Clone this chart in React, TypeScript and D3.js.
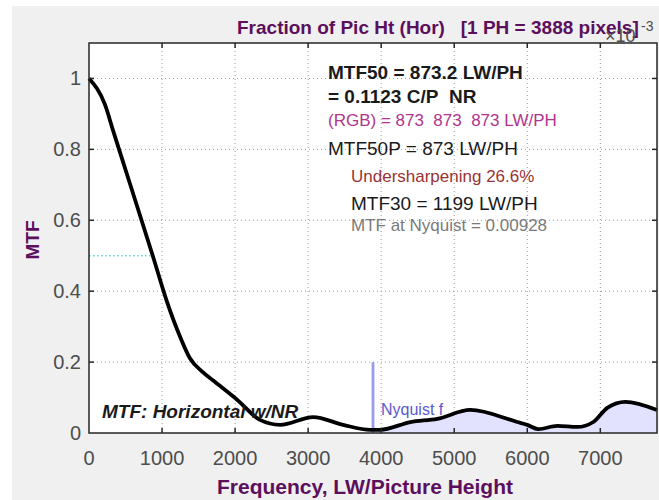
import React from "react";
import * as d3 from "d3";

// MTF curve
const freq = [0, 219, 330, 550, 873, 1068, 1250, 1384, 1550, 1700, 2027, 2340, 2616, 3068, 3480, 3850, 3986, 4400, 4767, 5219, 5863, 6000, 6150, 6411, 6685, 6904, 7096, 7342, 7776];
const mtf = [1.0, 0.926, 0.853, 0.71, 0.5, 0.37, 0.27, 0.21, 0.173, 0.148, 0.094, 0.037, 0.023, 0.045, 0.023, 0.009, 0.009, 0.031, 0.04, 0.065, 0.031, 0.023, 0.011, 0.02, 0.017, 0.031, 0.071, 0.088, 0.065];
const xTicks = [0, 1000, 2000, 3000, 4000, 5000, 6000, 7000];
const yTicks = [0, 0.2, 0.4, 0.6, 0.8, 1];
const nyquist = 3888;
const mtf50 = 873;

const W = 659;
const H = 500;
const marginLeft = 89;
const marginRight = 2;
const marginTop = 43;
const marginBottom = 67;

const FONT = "'Liberation Sans', Arial, Helvetica, sans-serif";
const PURPLE = "#5c0f5c";
const NB = "\u00a0";

export default function App() {
    const x = d3.scaleLinear().domain([0, 7776]).range([marginLeft, W - marginRight]);
    const y = d3.scaleLinear().domain([0, 1.1]).range([H - marginBottom, marginTop]);
    const pts: [number, number][] = freq.map((f, i) => [f, mtf[i]]);

    const line = d3
        .line<[number, number]>()
        .x((d) => x(d[0]))
        .y((d) => y(d[1]))
        .curve(d3.curveMonotoneX);
    const area = d3
        .area<[number, number]>()
        .x((d) => x(d[0]))
        .y0(y(0))
        .y1((d) => y(d[1]))
        .curve(d3.curveMonotoneX);

    const x0 = x(0), x1 = x(7776), yb = y(0), yt = y(1.1);
    const tickLen = 5;

    return (
        <svg width={W} height={H} style={{ position: "absolute", left: 0, top: 0, fontFamily: FONT }}>
            <rect x={0} y={0} width={W} height={H} fill="#ffffff" />
            <rect x={12} y={6} width={W - 12} height={H - 6} fill="#f0f0f0" />
            <defs>
                <clipPath id="nyq">
                    <rect x={x(nyquist)} y={yt} width={x1 - x(nyquist)} height={yb - yt} />
                </clipPath>
            </defs>
            <rect x={x0} y={yt} width={x1 - x0} height={yb - yt} fill="#ffffff" />

            {/* grid */}
            {xTicks.slice(1).map((t) => (
                <line key={"gx" + t} x1={x(t)} x2={x(t)} y1={yt} y2={yb} stroke="#999" strokeWidth={1} strokeDasharray="1,3" />
            ))}
            {yTicks.slice(1).map((t) => (
                <line key={"gy" + t} x1={x0} x2={x1} y1={y(t)} y2={y(t)} stroke="#999" strokeWidth={1} strokeDasharray="1,3" />
            ))}

            {/* area beyond nyquist */}
            <path d={area(pts) ?? ""} fill="#e2e2ff" clipPath="url(#nyq)" />

            {/* MTF50 marker */}
            <line x1={x0} x2={x(mtf50)} y1={y(0.5)} y2={y(0.5)} stroke="#3fe0e0" strokeWidth={1.5} strokeDasharray="1.5,2.5" />

            {/* nyquist line */}
            <line x1={x(nyquist)} x2={x(nyquist)} y1={yb} y2={y(0.2)} stroke="#9a9aee" strokeWidth={2.8} />
            <text x={x(nyquist) + 8} y={415} fontSize={16} fill="#5a5acc">Nyquist f</text>

            <path d={line(pts) ?? ""} fill="none" stroke="#000" strokeWidth={3.8} strokeLinejoin="round" />

            {/* frame and ticks */}
            <rect x={x0} y={yt} width={x1 - x0} height={yb - yt} fill="none" stroke="#262626" strokeWidth={1.5} />
            {xTicks.slice(1).map((t) => (
                <g key={"tx" + t} stroke="#262626" strokeWidth={1.5}>
                    <line x1={x(t)} x2={x(t)} y1={yb} y2={yb - tickLen} />
                    <line x1={x(t)} x2={x(t)} y1={yt} y2={yt + tickLen} />
                </g>
            ))}
            {yTicks.slice(1).map((t) => (
                <g key={"ty" + t} stroke="#262626" strokeWidth={1.5}>
                    <line x1={x0} x2={x0 + tickLen} y1={y(t)} y2={y(t)} />
                    <line x1={x1} x2={x1 - tickLen} y1={y(t)} y2={y(t)} />
                </g>
            ))}

            {/* tick labels */}
            {xTicks.map((t) => (
                <text key={"lx" + t} x={x(t)} y={465} fontSize={20} fill="#4d4d4d" textAnchor="middle">{t}</text>
            ))}
            {yTicks.map((t) => (
                <text key={"ly" + t} x={81} y={y(t) + 7} fontSize={20} fill="#4d4d4d" textAnchor="end">{t}</text>
            ))}

            {/* titles */}
            <text x={237} y={34} fontSize={19} fontWeight="bold" fill={PURPLE}>
                {`Fraction of Pic Ht (Hor)${NB}${NB}${NB}[1 PH = 3888 pixels]`}
            </text>
            <text x={605} y={42} fontSize={18} fill="#4d4d4d">×10</text>
            <text x={641} y={31} fontSize={14} fill="#4d4d4d">-3</text>
            <text x={x(3888) - 8} y={494} fontSize={21} fontWeight="bold" fill={PURPLE} textAnchor="middle">
                Frequency, LW/Picture Height
            </text>
            <text transform="translate(39,240) rotate(-90)" fontSize={19} fontWeight="bold" fill={PURPLE} textAnchor="middle">MTF</text>

            {/* annotations */}
            <g>
                <text x={328} y={79} fontSize={19} fontWeight="bold" fill="#1a1a1a">MTF50 = 873.2 LW/PH</text>
                <text x={328} y={103} fontSize={19} fontWeight="bold" fill="#1a1a1a">{`= 0.1123 C/P${NB}${NB}NR`}</text>
                <text x={328} y={126} fontSize={17} fill="#b0348c">{`(RGB) = 873${NB}${NB}873${NB}${NB}873 LW/PH`}</text>
                <text x={328} y={155} fontSize={19} fill="#1a1a1a">MTF50P = 873 LW/PH</text>
                <text x={351} y={182} fontSize={17} fill="#993333">Undersharpening 26.6%</text>
                <text x={351} y={210} fontSize={19} fill="#1a1a1a">MTF30 = 1199 LW/PH</text>
                <text x={351} y={231} fontSize={17} fill="#7a7a7a">MTF at Nyquist = 0.00928</text>
                <text x={102} y={418} fontSize={19} fontWeight="bold" fontStyle="italic" fill="#1a1a1a">MTF: Horizontal w/NR</text>
            </g>
        </svg>
    );
}
